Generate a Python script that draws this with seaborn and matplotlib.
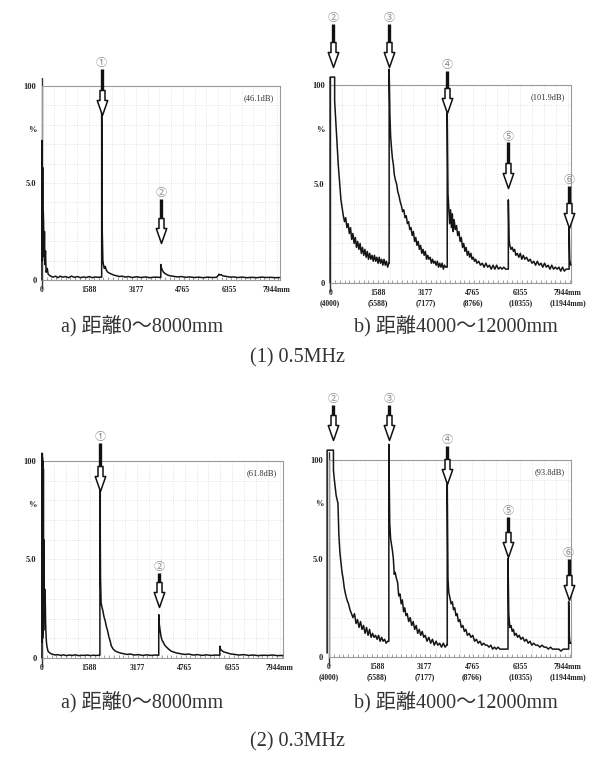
import matplotlib.pyplot as plt
import numpy as np
import seaborn as sns
from matplotlib.path import Path

sns.set_style("white")
plt.rcParams['font.family'] = ['Liberation Serif', 'Noto Sans CJK JP']

# x axis: distance in mm, second row = absolute distance for the b) panels
tick_pos = [0, 1588, 3177, 4765, 6355, 7944]
tick_lab_a = ['0', '1588', '3177', '4765', '6355', '7944mm']
tick_lab_b = ['0\n(4000)', '1588\n(5588)', '3177\n(7177)', '4765\n(8766)',
              '6355\n(10355)', '7944mm\n(11944mm)']

# ---- (1) 0.5MHz, a) 0~8000mm
a05_x = [0, 0, 15, 25, 35, 45, 55, 70, 85, 100, 120, 140, 160, 180, 210, 250, 300, 380, 460, 540, 620,
         700, 800, 900, 1000, 1100, 1200, 1300, 1400, 1500, 1600, 1700, 1800, 1900, 1990,
         2020, 2020, 2040, 2060, 2080, 2110, 2140, 2180, 2230, 2290, 2360, 2440, 2520, 2620, 2720,
         2820, 2920, 3050, 3200, 3350, 3500, 3650, 3800, 3950,
         4020, 4020, 4045, 4075, 4110, 4150, 4200, 4260, 4330, 4410, 4500, 4600, 4720, 4850, 5000,
         5150, 5300, 5450, 5600, 5750, 5900,
         5970, 5990, 6020, 6060, 6110, 6180, 6260, 6360, 6480, 6620, 6780, 6940, 7100, 7260, 7420,
         7580, 7740, 7900, 8040]
a05_y = [0, 72, 10, 58, 15, 35, 30, 12, 25, 8, 15, 4, 5, 6, 3, 2.5, 2, 1.5, 2, 1.2, 2,
         1.5, 1.8, 1.2, 2, 1.4, 1.8, 1.2, 1.6, 1.3, 1.8, 1.2, 1.6, 1.4, 1.5,
         1.5, 88, 25, 10, 8, 6, 7, 5, 4, 3.5, 3, 2.5, 2.2, 1.8, 2,
         1.5, 1.8, 1.3, 1.7, 1.3, 1.6, 1.2, 1.5, 1.4,
         1.4, 8, 6, 5, 4, 3.5, 3, 2.5, 2.2, 2, 1.8, 1.6, 1.8, 1.4, 1.6,
         1.3, 1.5, 1.2, 1.5, 1.3, 1.4,
         2.5, 3, 2.6, 2.8, 2.2, 2, 1.8, 1.5, 1.6, 1.3, 1.5, 1.2, 1.4, 1.2, 1.5,
         1.3, 1.4, 1.2, 1.3]

# ---- (1) 0.5MHz, b) 4000~12000mm
b05_x = [0, 0, 150, 150, 180, 210, 240, 270, 300, 330, 360, 400, 440, 480, 520, 560, 600, 640, 680,
         720, 760, 800, 840, 880, 920, 960, 1000, 1040, 1080, 1120, 1160, 1200, 1240, 1280, 1320,
         1360, 1400, 1440, 1480, 1520, 1560, 1600, 1640, 1680, 1720, 1760, 1800, 1840, 1880, 1920, 1960,
         1970, 1970, 1995, 2020, 2050, 2080, 2110, 2140, 2180, 2220, 2260, 2300, 2340, 2380, 2420,
         2460, 2500, 2540, 2580, 2620, 2660, 2700, 2740, 2780, 2820, 2860, 2900, 2940, 2980, 3020,
         3060, 3100, 3140, 3180, 3220, 3260, 3300, 3340, 3380, 3420, 3460, 3500, 3540, 3580, 3620,
         3660, 3700, 3740, 3780, 3820, 3860, 3890,
         3910, 3910, 3935, 3960, 3990, 4020, 4050, 4080, 4110, 4140, 4180, 4220, 4260, 4300, 4340,
         4380, 4420, 4460, 4500, 4540, 4580, 4620, 4660, 4700, 4740, 4780, 4820, 4860, 4900, 4960,
         5020, 5080, 5140, 5200, 5260, 5320, 5380, 5440, 5500, 5560, 5620, 5680, 5740, 5800, 5860, 5920,
         5950, 5950, 5975, 6000, 6040, 6080, 6120, 6160, 6200, 6250, 6300, 6350, 6400, 6450, 6500,
         6560, 6620, 6680, 6740, 6800, 6860, 6920, 6980, 7040, 7100, 7160, 7220, 7280, 7340, 7400,
         7460, 7520, 7580, 7640, 7700, 7760, 7820, 7880, 7950,
         7980, 7980, 8000, 8020, 8040]
b05_y = [0, 104, 104, 92, 84, 76, 68, 60, 54, 48, 42, 38, 34, 31, 33, 28, 30, 25, 28,
         22, 25, 20, 23, 18, 21, 17, 20, 15, 18, 14, 17, 13, 16, 12, 15,
         12, 14, 11, 14, 11, 13, 10, 13, 10, 12, 9, 12, 9, 11, 8, 10,
         10, 108, 85, 74, 68, 63, 60, 55, 52, 50, 46, 44, 41, 39, 36,
         37, 33, 34, 30, 31, 27, 28, 24, 26, 21, 23, 19, 21, 17, 19,
         15, 17, 14, 16, 12, 14, 12, 13, 10, 12, 10, 11, 9, 11, 8,
         10, 8, 10, 7, 9, 8, 8,
         8, 86, 45, 38, 30, 37, 28, 35, 26, 32, 27, 29, 24, 26, 21,
         23, 18, 20, 16, 18, 14, 16, 13, 15, 12, 13, 11, 12, 10, 11,
         9, 10, 8, 10, 8, 9, 7, 9, 7, 9, 7, 8, 7, 8, 7, 7,
         7, 42, 22, 19, 17, 18, 16, 17, 14, 15, 13, 15, 12, 14, 12,
         13, 11, 12, 10, 11, 9, 11, 9, 10, 8, 10, 8, 9, 7, 9,
         7, 8, 7, 8, 6, 8, 6, 7, 7,
         7, 28, 12, 10, 9]

# ---- (2) 0.3MHz, a) 0~8000mm
a03_x = [0, 0, 8, 16, 24, 32, 40, 48, 56, 64, 72, 82, 92, 102, 112, 122, 135, 150, 165, 180, 200,
         230, 270, 320, 380, 450, 530, 620, 720, 820, 920, 1020, 1120, 1220, 1320, 1420, 1520,
         1620, 1720, 1820, 1910,
         1935, 1935, 1955, 1975, 2000, 2035, 2070, 2110, 2150, 2190, 2230, 2270, 2320, 2380, 2450,
         2530, 2620, 2720, 2830, 2950, 3080, 3220, 3360, 3500, 3640, 3780, 3880,
         3900, 3900, 3920, 3945, 3975, 4010, 4050, 4100, 4160, 4230, 4310, 4400, 4500, 4620, 4760,
         4900, 5050, 5200, 5350, 5500, 5650, 5800, 5920,
         5940, 5940, 5960, 5990, 6030, 6080, 6140, 6220, 6320, 6440, 6580, 6740, 6900, 7060, 7220,
         7380, 7540, 7700, 7860, 8040]
a03_y = [0, 104, 8, 102, 10, 100, 12, 96, 14, 60, 45, 20, 35, 24, 28, 18, 12, 8, 6, 5, 3.5,
         3, 2.5, 2, 1.8, 1.5, 1.7, 1.3, 1.6, 1.2, 1.5, 1.3, 1.6, 1.2, 1.4, 1.3, 1.5,
         1.2, 1.4, 1.3, 1.4,
         1.4, 90, 40, 28, 26, 24, 21, 19, 16, 14, 11, 9, 6, 4.5, 3.5,
         3, 2.5, 2.2, 1.8, 2, 1.5, 1.7, 1.3, 1.6, 1.3, 1.5, 1.4,
         1.4, 22, 17, 14, 11, 9, 8, 6.5, 5.5, 4.5, 3.5, 3, 2.5, 2.2, 1.8,
         2, 1.5, 1.7, 1.3, 1.6, 1.3, 1.5, 1.4,
         1.4, 6, 4.5, 4, 3.5, 3, 2.8, 2.4, 2, 1.8, 1.5, 1.7, 1.3, 1.5, 1.2,
         1.4, 1.3, 1.5, 1.2, 1.3]

# ---- (2) 0.3MHz, b) 4000~12000mm
b03_x = [-60, -60, 150, 150, 180, 210, 240, 270, 300, 330, 365, 400, 435, 470, 510, 550, 600, 650,
         700, 750, 800, 850, 900, 950, 1000, 1050, 1100, 1150, 1200, 1250, 1300, 1350, 1400, 1450,
         1500, 1550, 1600, 1650, 1700, 1750, 1800, 1850, 1900, 1950,
         1990, 1990, 2020, 2050, 2080, 2110, 2140, 2170, 2200, 2240, 2280, 2320, 2360, 2400, 2440,
         2480, 2520, 2560, 2600, 2650, 2700, 2750, 2800, 2850, 2900, 2950, 3000, 3050, 3100, 3150,
         3200, 3260, 3320, 3380, 3440, 3500, 3560, 3620, 3680, 3740, 3800, 3860, 3910,
         3930, 3930, 3955, 3980, 4020, 4060, 4100, 4140, 4180, 4220, 4260, 4300, 4350, 4400, 4450,
         4500, 4550, 4600, 4660, 4720, 4780, 4840, 4900, 4960, 5020, 5080, 5140, 5200, 5260, 5320,
         5380, 5440, 5500, 5560, 5620, 5680, 5740, 5800, 5860, 5920,
         5950, 5950, 5975, 6010, 6050, 6090, 6130, 6170, 6220, 6270, 6320, 6380, 6440, 6500, 6560,
         6620, 6680, 6740, 6800, 6870, 6940, 7010, 7080, 7150, 7220, 7290, 7360, 7430, 7500, 7570,
         7640, 7710, 7780, 7850, 7920,
         7965, 7965, 7990, 8010, 8040]
b03_y = [2, 105, 105, 95, 90, 86, 82, 80, 78, 62, 53, 48, 43, 40, 35, 32, 29, 27,
         24, 22, 20, 22, 17, 19, 15, 18, 14, 16, 12, 15, 11, 14, 10, 12,
         10, 11, 9, 11, 8, 10, 8, 9, 7, 8,
         8, 108, 68, 60, 57, 54, 50, 42, 43, 40, 38, 31, 32, 27, 29,
         23, 25, 21, 22, 18, 20, 16, 18, 14, 16, 12, 14, 11, 13, 10,
         11, 8, 10, 7, 9, 6, 8, 6, 7, 5, 7, 5, 6,
         6, 88, 40, 33, 30, 27, 28, 24, 25, 21, 22, 18, 19, 15, 16,
         13, 14, 11, 12, 10, 11, 8, 9, 7, 8, 6, 7, 6, 6, 5,
         6, 4, 5, 4, 5, 4, 4, 4, 4, 4,
         4, 50, 22, 15, 16, 13, 14, 11, 12, 10, 11, 9, 10, 8, 9,
         7, 8, 6, 7, 6, 6, 5, 6, 5, 5, 4, 5, 4, 4, 4,
         4, 3, 4, 4, 4,
         4, 28, 10, 7, 7]

# echo arrows: label, x, tip height, label height (in % units)
a05_arrows = [('①', 2020, 85, 112), ('②', 4020, 19, 45)]
b05_arrows = [('②', 100, 109, 134), ('③', 1970, 109, 134), ('④', 3910, 86, 110),
              ('⑤', 5950, 48, 74), ('⑥', 7980, 28, 52)]
a03_arrows = [('①', 1935, 85, 112), ('②', 3900, 26, 46)]
b03_arrows = [('②', 130, 110, 131), ('③', 1990, 110, 131), ('④', 3930, 88, 110),
              ('⑤', 5950, 51, 74), ('⑥', 7965, 29, 53)]

gains = ['(46.1dB)', '(101.9dB)', '(61.8dB)', '(93.8dB)']

# hollow arrow head, tip at the origin
head = Path([(-0.2, 2), (0.2, 2), (0.2, 1.2), (0.42, 1.2), (0, 0),
             (-0.42, 1.2), (-0.2, 1.2), (-0.2, 2)], closed=True)

fig = plt.figure(figsize=(6.08, 7.62), dpi=100)
boxes = [[0.069, 0.6325, 0.391, 0.2546],
         [0.543, 0.6286, 0.396, 0.2598],
         [0.069, 0.1365, 0.396, 0.2585],
         [0.541, 0.1378, 0.398, 0.2585]]
traces = [(a05_x, a05_y), (b05_x, b05_y), (a03_x, a03_y), (b03_x, b03_y)]
arrows = [a05_arrows, b05_arrows, a03_arrows, b03_arrows]
labels = [tick_lab_a, tick_lab_b, tick_lab_a, tick_lab_b]

for i in range(4):
    ax = fig.add_axes(boxes[i])
    ax.set_xlim(0, 8040)
    ax.set_ylim(0, 100)

    # faint dotted grid
    ax.vlines(np.arange(397, 8040, 397), 0, 100, color='#d4d4d4', lw=0.5, ls=':', zorder=0)
    ax.hlines(np.arange(10, 100, 10), 0, 8040, color='#d4d4d4', lw=0.5, ls=':', zorder=0)

    xs, ys = traces[i]
    sns.lineplot(x=xs, y=ys, sort=False, estimator=None, color='#151515', lw=1.1,
                 ax=ax, clip_on=False, zorder=3)

    for lab, x, tip, top in arrows[i]:
        ax.plot([x, x], [top - 3, tip + 8], color='#111111', lw=2.4,
                solid_capstyle='butt', clip_on=False, zorder=5)
        ax.plot([x], [tip], marker=head, ms=36, mfc='white', mec='#111111', mew=1.1,
                clip_on=False, zorder=6)
        ax.text(x, top, lab, ha='center', va='center', fontsize=8, color='#8c8c8c',
                family=['Noto Sans CJK JP', 'DejaVu Sans'], clip_on=False, zorder=6)

    ax.text(0.975, 0.96, gains[i], transform=ax.transAxes, ha='right', va='top',
            fontsize=6, color='#333333')

    ax.set_xticks(tick_pos)
    ax.set_xticklabels(labels[i], fontsize=5.5, fontweight='bold', color='#222222',
                       linespacing=1.4)
    ax.set_xticks(np.arange(0, 8040, 160), minor=True)
    ax.set_yticks([0, 50, 78, 100])
    ax.set_yticklabels(['0', '5.0', '%', '100'], fontsize=6, fontweight='bold', color='#222222')
    ax.tick_params(axis='both', which='major', length=0, pad=4)
    ax.tick_params(axis='x', which='minor', direction='in', length=2.5, width=0.5,
                   color='#777777', bottom=True)
    for s in ax.spines.values():
        s.set_color('#9a9a9a')
        s.set_linewidth(0.8)
    ax.axvline(0, ymin=-0.04, ymax=1.04, color='#333333', lw=1.0, clip_on=False)

cap = dict(fontsize=14.5, ha='center', va='center', color='#333333')
fig.text(142 / 608, 1 - 327 / 762, 'a) 距離0～8000mm', **cap)
fig.text(456 / 608, 1 - 327 / 762, 'b) 距離4000～12000mm', **cap)
fig.text(298 / 608, 1 - 358 / 762, '(1) 0.5MHz', **cap)
fig.text(142 / 608, 1 - 703 / 762, 'a) 距離0～8000mm', **cap)
fig.text(456 / 608, 1 - 703 / 762, 'b) 距離4000～12000mm', **cap)
fig.text(298 / 608, 1 - 742 / 762, '(2) 0.3MHz', **cap)

fig.savefig('out.png', dpi=100)
